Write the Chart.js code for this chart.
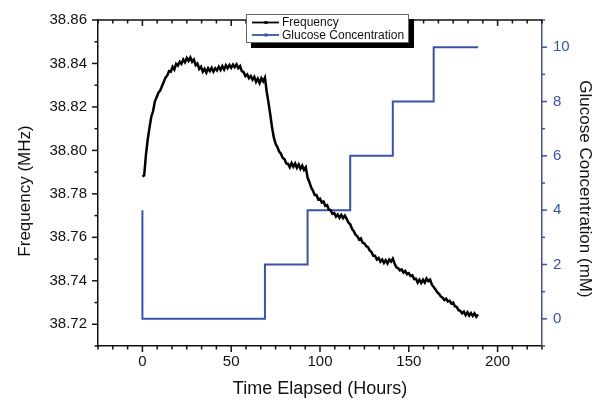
<!DOCTYPE html>
<html lang="en">
<head>
<meta charset="UTF-8" />
<script src="https://cdn.jsdelivr.net/npm/chart.js@4.4.1/dist/chart.umd.min.js"></script>
<style>
  html, body { margin: 0; padding: 0; background: #fff; }
</style>
</head>
<body>
<canvas id="c" width="606" height="402"></canvas>
<script>
// frequency trace, every hour
const timeHours = [
  0, 1, 2, 3, 4, 5, 6, 7, 8, 9, 10, 11, 12, 13, 14, 15, 16, 17, 18, 19,
  20, 21, 22, 23, 24, 25, 26, 27, 28, 29, 30, 31, 32, 33, 34, 35, 36, 37, 38, 39,
  40, 41, 42, 43, 44, 45, 46, 47, 48, 49, 50, 51, 52, 53, 54, 55, 56, 57, 58, 59,
  60, 61, 62, 63, 64, 65, 66, 67, 68, 69, 70, 71, 72, 73, 74, 75, 76, 77, 78, 79,
  80, 81, 82, 83, 84, 85, 86, 87, 88, 89, 90, 91, 92, 93, 94, 95, 96, 97, 98, 99,
  100, 101, 102, 103, 104, 105, 106, 107, 108, 109, 110, 111, 112, 113, 114, 115, 116, 117, 118, 119,
  120, 121, 122, 123, 124, 125, 126, 127, 128, 129, 130, 131, 132, 133, 134, 135, 136, 137, 138, 139,
  140, 141, 142, 143, 144, 145, 146, 147, 148, 149, 150, 151, 152, 153, 154, 155, 156, 157, 158, 159,
  160, 161, 162, 163, 164, 165, 166, 167, 168, 169, 170, 171, 172, 173, 174, 175, 176, 177, 178, 179,
  180, 181, 182, 183, 184, 185, 186, 187, 188, 189
]
const frequencyMHz = [
  38.7880, 38.7885, 38.7980, 38.8050, 38.8105, 38.8155, 38.8180, 38.8225, 38.8245, 38.8265,
  38.8275, 38.8295, 38.8315, 38.8335, 38.8345, 38.8365, 38.8362, 38.8385, 38.8372, 38.8398,
  38.8390, 38.8408, 38.8398, 38.8418, 38.8405, 38.8425, 38.8412, 38.8428, 38.8408, 38.8418,
  38.8392, 38.8400, 38.8375, 38.8385, 38.8362, 38.8375, 38.8358, 38.8378, 38.8365, 38.8380,
  38.8362, 38.8378, 38.8368, 38.8385, 38.8370, 38.8388, 38.8372, 38.8392, 38.8378, 38.8393,
  38.8380, 38.8395, 38.8383, 38.8396, 38.8378, 38.8388, 38.8365, 38.8360, 38.8342, 38.8350,
  38.8332, 38.8342, 38.8325, 38.8338, 38.8315, 38.8330, 38.8310, 38.8332, 38.8318, 38.8335,
  38.8270, 38.8220, 38.8165, 38.8105, 38.8060, 38.8030, 38.8015, 38.7995, 38.7985, 38.7965,
  38.7960, 38.7940, 38.7938, 38.7922, 38.7942, 38.7925, 38.7940, 38.7920, 38.7935, 38.7915,
  38.7930, 38.7910, 38.7922, 38.7875, 38.7855, 38.7830, 38.7815, 38.7795, 38.7795, 38.7775,
  38.7778, 38.7760, 38.7765, 38.7745, 38.7748, 38.7728, 38.7725, 38.7708, 38.7712, 38.7695,
  38.7705, 38.7690, 38.7703, 38.7688, 38.7700, 38.7685, 38.7668, 38.7660, 38.7640, 38.7628,
  38.7612, 38.7605, 38.7590, 38.7595, 38.7575, 38.7572, 38.7560, 38.7555, 38.7540, 38.7532,
  38.7515, 38.7515, 38.7498, 38.7505, 38.7488, 38.7498, 38.7482, 38.7495, 38.7480, 38.7498,
  38.7488, 38.7502, 38.7480, 38.7462, 38.7458, 38.7448, 38.7452, 38.7438, 38.7445, 38.7430,
  38.7435, 38.7422, 38.7425, 38.7408, 38.7410, 38.7392, 38.7405, 38.7390, 38.7405, 38.7392,
  38.7410, 38.7398, 38.7405, 38.7382, 38.7372, 38.7360, 38.7348, 38.7340, 38.7328, 38.7322,
  38.7312, 38.7318, 38.7305, 38.7308, 38.7295, 38.7300, 38.7282, 38.7280, 38.7265, 38.7262,
  38.7250, 38.7258, 38.7242, 38.7255, 38.7240, 38.7252, 38.7238, 38.7250, 38.7235, 38.7245
]
// glucose steps
const glucoseHours = [0, 0, 69, 69, 93, 93, 117, 117, 141, 141, 164, 164, 189]
const glucoseMM = [4, 0, 0, 2, 2, 4, 4, 6, 6, 8, 8, 10, 10]

const xLabels = [0, 50, 100, 150, 200]
const freqLabels = [38.72, 38.74, 38.76, 38.78, 38.80, 38.82, 38.84, 38.86]
const glucoseLabels = [0, 2, 4, 6, 8, 10]

const BLUE = '#3b52a8'
const FONT = '"Liberation Sans", Arial, sans-serif'

const near = (v, list) => list.some(l => Math.abs(v - l) < 1e-6)

const pts = (xs, ys) => xs.map((x, i) => ({ x: x, y: ys[i] }))

// tick marks: inward on top, outward elsewhere, long ones where there is a label
const tickMarks = {
  id: 'tickMarks',
  afterDraw(chart) {
    const { ctx, chartArea: a, scales } = chart
    const seg = (x1, y1, x2, y2) => { ctx.beginPath(); ctx.moveTo(x1, y1); ctx.lineTo(x2, y2); ctx.stroke() }
    ctx.save()
    ctx.lineWidth = 1.5
    ctx.strokeStyle = '#111'
    seg(a.left - 0.75, a.top, a.right, a.top)
    scales.x.ticks.forEach(t => {
      const px = scales.x.getPixelForValue(t.value)
      const len = near(t.value, xLabels) ? 6 : 3.5
      seg(px, a.bottom, px, a.bottom + len)
      seg(px, a.top, px, a.top + len)
    })
    scales.y.ticks.forEach(t => {
      const py = scales.y.getPixelForValue(t.value)
      const len = near(t.value, freqLabels) ? 6 : 3.5
      seg(a.left, py, a.left - len, py)
    })
    ctx.strokeStyle = BLUE
    scales.y2.ticks.forEach(t => {
      const py = scales.y2.getPixelForValue(t.value)
      const len = near(t.value, glucoseLabels) ? 5 : 3
      seg(a.right, py, a.right + len, py)
    })
    ctx.restore()
  }
}

// side titles sit a little below the axis middle in the original
const sideTitles = {
  id: 'sideTitles',
  afterDraw(chart) {
    const { ctx } = chart
    ctx.save()
    ctx.font = '17px ' + FONT
    ctx.fillStyle = '#111'
    ctx.textAlign = 'center'
    ctx.textBaseline = 'middle'
    ctx.translate(25, 191)
    ctx.rotate(-Math.PI / 2)
    ctx.fillText('Frequency (MHz)', 0, 0)
    ctx.restore()
    ctx.save()
    ctx.font = '17px ' + FONT
    ctx.fillStyle = '#111'
    ctx.textAlign = 'center'
    ctx.textBaseline = 'middle'
    ctx.translate(585, 189)
    ctx.rotate(Math.PI / 2)
    ctx.fillText('Glucose Concentration (mM)', 0, 0)
    ctx.restore()
  }
}

// boxed legend with a drop shadow, like the original
const boxLegend = {
  id: 'boxLegend',
  afterDraw(chart) {
    const { ctx } = chart
    const bx = 246, by = 14, bw = 163, bh = 29
    ctx.save()
    ctx.fillStyle = '#000'
    ctx.fillRect(bx + 5, by + 5, bw, bh)
    ctx.fillStyle = '#fff'
    ctx.fillRect(bx, by, bw, bh)
    ctx.strokeStyle = '#666'
    ctx.lineWidth = 1
    ctx.strokeRect(bx + 0.5, by + 0.5, bw - 1, bh - 1)
    ctx.font = '12px ' + FONT
    ctx.textBaseline = 'middle'
    chart.data.datasets.forEach((ds, i) => {
      const y = by + 8.5 + i * 12.5
      ctx.strokeStyle = ds.borderColor
      ctx.lineWidth = 1.8
      ctx.beginPath(); ctx.moveTo(bx + 6, y); ctx.lineTo(bx + 33, y); ctx.stroke()
      ctx.fillStyle = ds.borderColor
      ctx.fillRect(bx + 18.5, y - 1.5, 3, 3)
      ctx.fillStyle = '#111'
      ctx.fillText(ds.label, bx + 36, y + 0.5)
    })
    ctx.restore()
  }
}

new Chart(document.getElementById('c'), {
  type: 'line',
  data: {
    datasets: [
      {
        label: 'Frequency',
        data: pts(timeHours, frequencyMHz),
        borderColor: '#000',
        borderWidth: 2.5,
        pointRadius: 0,
        tension: 0,
        yAxisID: 'y'
      },
      {
        label: 'Glucose Concentration',
        data: pts(glucoseHours, glucoseMM),
        borderColor: BLUE,
        borderWidth: 2,
        pointRadius: 0,
        tension: 0,
        yAxisID: 'y2'
      }
    ]
  },
  options: {
    responsive: false,
    animation: false,
    devicePixelRatio: 1,
    layout: { padding: { top: 14, left: 0, right: 0, bottom: 0 } },
    plugins: { legend: { display: false }, tooltip: { enabled: false } },
    scales: {
      x: {
        type: 'linear',
        min: -25,
        max: 225,
        afterFit: s => { s.height = 56 },
        ticks: {
          stepSize: 25 / 3,
          autoSkip: false,
          maxRotation: 0,
          padding: 7,
          color: '#111',
          font: { family: FONT, size: 15 },
          callback: v => near(v, xLabels) ? String(Math.round(v)) : ''
        },
        grid: { drawOnChartArea: false, drawTicks: false },
        border: { display: true, color: '#111', width: 1.5 },
        title: {
          display: true,
          text: 'Time Elapsed (Hours)',
          color: '#111',
          font: { family: FONT, size: 18 },
          padding: { top: 0, bottom: 2 }
        }
      },
      y: {
        position: 'left',
        min: 38.71,
        max: 38.86,
        afterFit: s => { s.width = 98 },
        ticks: {
          stepSize: 0.01,
          autoSkip: false,
          padding: 11,
          color: '#111',
          font: { family: FONT, size: 15 },
          callback: v => near(v, freqLabels) ? v.toFixed(2) : ''
        },
        grid: { drawOnChartArea: false, drawTicks: false },
        border: { display: true, color: '#111', width: 1.5 }
      },
      y2: {
        position: 'right',
        min: -1,
        max: 11,
        afterFit: s => { s.width = 64 },
        ticks: {
          stepSize: 1,
          autoSkip: false,
          padding: 11,
          color: BLUE,
          font: { family: FONT, size: 15 },
          callback: v => near(v, glucoseLabels) ? String(v) : ''
        },
        grid: { drawOnChartArea: false, drawTicks: false },
        border: { display: true, color: BLUE, width: 1.5 }
      }
    }
  },
  plugins: [tickMarks, sideTitles, boxLegend]
})
</script>
</body>
</html>
